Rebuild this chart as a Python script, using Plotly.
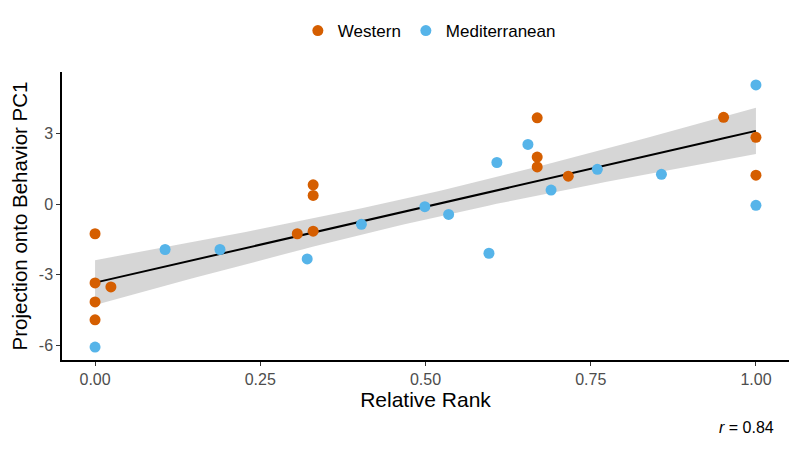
import numpy as np
import plotly.graph_objects as go

# Data
western_x = [0, 0, 0, 0, 0.024, 0.306, 0.330, 0.330, 0.330, 0.669, 0.669, 0.669, 0.716, 0.951, 1.0, 1.0]
western_y = [-1.25, -3.34, -4.15, -4.91, -3.51, -1.25, -1.14, 0.83, 0.38, 3.68, 2.01, 1.59, 1.20, 3.70, 2.85, 1.24]

med_x = [0, 0.106, 0.189, 0.321, 0.403, 0.499, 0.535, 0.596, 0.608, 0.655, 0.690, 0.760, 0.857, 1.0, 1.0]
med_y = [-6.07, -1.92, -1.92, -2.32, -0.85, -0.10, -0.43, -2.08, 1.78, 2.55, 0.61, 1.49, 1.28, 5.08, -0.04]

x_ticks = [0, 0.25, 0.5, 0.75, 1.0]
x_tick_labels = ["0.00", "0.25", "0.50", "0.75", "1.00"]
y_ticks = [-6, -3, 0, 3]
y_tick_labels = ["-6", "-3", "0", "3"]
r_label = "0.84"

# Linear fit with 95% confidence band
ax = np.array(western_x + med_x)
ay = np.array(western_y + med_y)
n = len(ax)
slope, intercept = np.polyfit(ax, ay, 1)
resid = ay - (slope * ax + intercept)
s = np.sqrt(np.sum(resid ** 2) / (n - 2))
xbar = ax.mean()
sxx = np.sum((ax - xbar) ** 2)
t_crit = 2.045  # t(0.975, df=29)
xs = np.linspace(ax.min(), ax.max(), 80)
fit = slope * xs + intercept
se = s * np.sqrt(1.0 / n + (xs - xbar) ** 2 / sxx)
upper = fit + t_crit * se
lower = fit - t_crit * se

fig = go.Figure()
fig.add_trace(go.Scatter(
    x=np.concatenate([xs, xs[::-1]]), y=np.concatenate([upper, lower[::-1]]),
    fill="toself", fillcolor="rgba(153,153,153,0.4)", line=dict(width=0),
    mode="lines", hoverinfo="skip", showlegend=False))
fig.add_trace(go.Scatter(x=xs, y=fit, mode="lines",
                         line=dict(color="black", width=2), showlegend=False))
fig.add_trace(go.Scatter(x=western_x, y=western_y, mode="markers", name="Western",
                         marker=dict(color="#D55E00", size=11)))
fig.add_trace(go.Scatter(x=med_x, y=med_y, mode="markers", name="Mediterranean",
                         marker=dict(color="#56B4E9", size=11)))

fig.update_layout(
    width=792, height=442,
    paper_bgcolor="white", plot_bgcolor="white",
    font=dict(family="Liberation Sans, Arial, sans-serif", color="black"),
    margin=dict(l=54, r=11, t=64, b=90, autoexpand=False),
    legend=dict(orientation="h", x=0.532, xanchor="center", xref="container",
                y=1 - 23 / 442, yanchor="middle", yref="container",
                font=dict(size=17, color="black"), itemwidth=30, tracegroupgap=0),
    xaxis=dict(range=[-0.05, 1.05], tickvals=x_ticks, ticktext=x_tick_labels,
               showgrid=False, zeroline=False, showline=True, linecolor="black", linewidth=1.5,
               ticks="outside", ticklen=4, tickcolor="#333333", automargin=False,
               tickfont=dict(size=16, color="#4D4D4D"),
               title=dict(text="Relative Rank", font=dict(size=21), standoff=4)),
    yaxis=dict(range=[-6.62, 5.63], tickvals=y_ticks, ticktext=y_tick_labels,
               showgrid=False, zeroline=False, showline=True, linecolor="black", linewidth=1.5,
               ticks="outside", ticklen=4, tickcolor="#333333", automargin=False,
               tickfont=dict(size=16, color="#4D4D4D"),
               title=dict(text="Projection onto Behavior PC1", font=dict(size=20.5), standoff=6)),
    annotations=[dict(text="<i>r</i> = " + r_label, xref="paper", yref="paper",
                      x=1.0, y=-0.236, xanchor="right", yanchor="middle",
                      showarrow=False, font=dict(size=16, color="black"), xshift=-13)],
)

fig.write_html("out.html")
